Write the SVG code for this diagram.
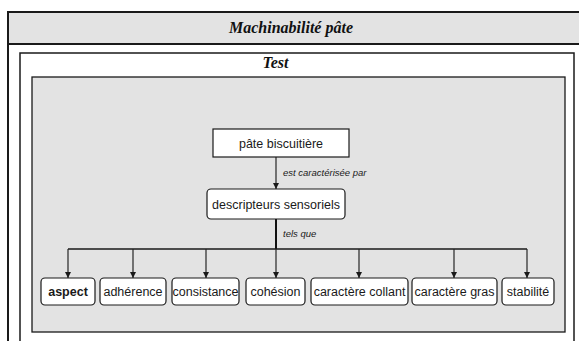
<svg xmlns="http://www.w3.org/2000/svg" width="579" height="341" viewBox="0 0 579 341">
<style>
.frame{fill:none;stroke:#1a1a1a;}
.node{fill:#ffffff;stroke:#1a1a1a;stroke-width:1.2;}
.t{font-family:"Liberation Sans",Arial,sans-serif;font-size:12.5px;fill:#1a1a1a;text-anchor:middle;}
.lbl{font-family:"Liberation Sans",Arial,sans-serif;font-size:9.5px;font-style:italic;fill:#1a1a1a;}
.title{font-family:"Liberation Serif","Times New Roman",serif;font-weight:bold;font-style:italic;fill:#111;text-anchor:middle;}
.c{fill:none;stroke:#262626;stroke-width:1.2;}
</style>
<defs>
<marker id="arr" viewBox="0 0 8 8" refX="8" refY="4" markerWidth="6" markerHeight="6" markerUnits="userSpaceOnUse" orient="auto">
<path d="M0,0 L8,4 L0,8 z" fill="#1a1a1a"/>
</marker>
</defs>
<rect x="0" y="0" width="579" height="341" fill="#ffffff"/>
<g id="outer">
<rect x="8" y="12" width="590" height="360" fill="#ffffff" stroke="#1a1a1a" stroke-width="2"/>
<rect x="8" y="12" width="590" height="32" fill="#e3e3e3" stroke="#1a1a1a" stroke-width="2"/>
<text class="title" x="291" y="33" font-size="16">Machinabilité pâte</text>
</g>
<g id="test">
<rect x="20" y="53" width="554" height="320" fill="#ffffff" stroke="#1a1a1a" stroke-width="1.5"/>
<text class="title" x="275.5" y="68" font-size="16">Test</text>
<rect x="32" y="77" width="533" height="255" fill="#e3e3e3" stroke="#1a1a1a" stroke-width="1.3"/>
</g>
<g id="connectors">
<line class="c" x1="276" y1="157" x2="276" y2="189" marker-end="url(#arr)"/>
<text class="lbl" x="283" y="176">est caractérisée par</text>
<line x1="276" y1="219" x2="276" y2="249" stroke="#111" stroke-width="2"/>
<text class="lbl" x="283" y="237">tels que</text>
<line x1="68" y1="249" x2="527" y2="249" stroke="#1a1a1a" stroke-width="1.6"/>
<line class="c" x1="68" y1="249" x2="68" y2="278" marker-end="url(#arr)"/>
<line class="c" x1="133" y1="249" x2="133" y2="278" marker-end="url(#arr)"/>
<line class="c" x1="206" y1="249" x2="206" y2="278" marker-end="url(#arr)"/>
<line class="c" x1="276" y1="249" x2="276" y2="278" marker-end="url(#arr)"/>
<line class="c" x1="359" y1="249" x2="359" y2="278" marker-end="url(#arr)"/>
<line class="c" x1="454" y1="249" x2="454" y2="278" marker-end="url(#arr)"/>
<line class="c" x1="527" y1="249" x2="527" y2="278" marker-end="url(#arr)"/>
</g>
<g id="pate">
<rect class="node" x="213" y="129" width="136" height="28"/>
<text class="t" x="281" y="148">pâte biscuitière</text>
</g>
<g id="descripteurs">
<rect class="node" x="207" y="189" width="138" height="30" rx="4"/>
<text class="t" x="276" y="209">descripteurs sensoriels</text>
</g>
<g id="aspect">
<rect class="node" x="41" y="278" width="54" height="27" rx="4"/>
<text class="t" x="68" y="296" font-weight="bold">aspect</text>
</g>
<g id="adherence">
<rect class="node" x="100" y="278" width="66" height="27" rx="4"/>
<text class="t" x="133" y="296">adhérence</text>
</g>
<g id="consistance">
<rect class="node" x="172" y="278" width="67" height="27" rx="4"/>
<text class="t" x="205.5" y="296">consistance</text>
</g>
<g id="cohesion">
<rect class="node" x="246" y="278" width="59" height="27" rx="4"/>
<text class="t" x="275.5" y="296">cohésion</text>
</g>
<g id="collant">
<rect class="node" x="311" y="278" width="97" height="27" rx="4"/>
<text class="t" x="359.5" y="296">caractère collant</text>
</g>
<g id="gras">
<rect class="node" x="412" y="278" width="85" height="27" rx="4"/>
<text class="t" x="454.5" y="296">caractère gras</text>
</g>
<g id="stabilite">
<rect class="node" x="502" y="278" width="52" height="27" rx="4"/>
<text class="t" x="528" y="296">stabilité</text>
</g>
</svg>
